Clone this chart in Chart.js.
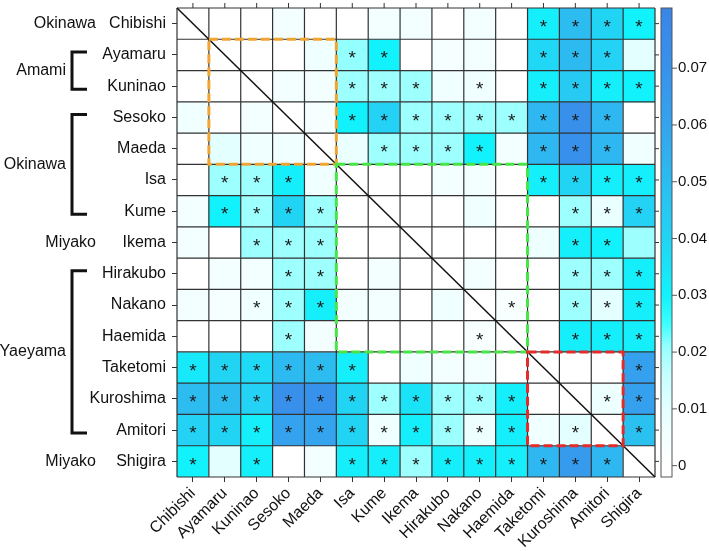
<!DOCTYPE html>
<html>
<head>
<meta charset="utf-8">
<script src="https://cdn.jsdelivr.net/npm/chart.js@4.4.1/dist/chart.umd.min.js"></script>
<style>
  body { margin: 0; background: #fff; }
  #wrap { width: 709px; height: 551px; }
</style>
</head>
<body>
<div id="wrap"><canvas id="heatChart" width="709" height="551"></canvas></div>
<script>
// Pairwise distance between sites (rows x columns), plus significance marks
const sites = ['Chibishi', 'Ayamaru', 'Kuninao', 'Sesoko', 'Maeda', 'Isa', 'Kume', 'Ikema',
    'Hirakubo', 'Nakano', 'Haemida', 'Taketomi', 'Kuroshima', 'Amitori', 'Shigira'];

const distance = [
    [0, 0, 0, 0.005, 0, 0, 0.005, 0.005, 0, 0.005, 0, 0.031, 0.050, 0.040, 0.030],
    [0, 0, 0, 0, 0.006, 0.021, 0.030, 0, 0.004, 0.005, 0, 0.039, 0.051, 0.041, 0.010],
    [0, 0, 0, 0.005, 0.005, 0.020, 0.020, 0.020, 0.006, 0.006, 0, 0.031, 0.044, 0.031, 0.030],
    [0.006, 0, 0.005, 0, 0.004, 0.030, 0.041, 0.020, 0.020, 0.020, 0.020, 0.052, 0.072, 0.052, 0],
    [0, 0.010, 0.006, 0.006, 0, 0.008, 0.020, 0.020, 0.020, 0.030, 0.005, 0.052, 0.071, 0.052, 0.006],
    [0, 0.020, 0.020, 0.031, 0.006, 0, 0, 0, 0.005, 0.005, 0, 0.031, 0.040, 0.031, 0.031],
    [0.005, 0.030, 0.020, 0.040, 0.020, 0, 0, 0, 0, 0.006, 0, 0, 0.020, 0.008, 0.041],
    [0.005, 0, 0.020, 0.020, 0.020, 0, 0, 0, 0, 0, 0, 0.007, 0.031, 0.030, 0.020],
    [0, 0.005, 0.005, 0.020, 0.020, 0, 0.005, 0, 0, 0.005, 0, 0, 0.020, 0.020, 0.031],
    [0.005, 0.004, 0.006, 0.020, 0.031, 0.005, 0.005, 0, 0.006, 0, 0.003, 0, 0.020, 0.010, 0.031],
    [0, 0, 0, 0.020, 0.005, 0, 0, 0, 0, 0.003, 0, 0, 0.031, 0.031, 0.031],
    [0.033, 0.040, 0.038, 0.051, 0.050, 0.031, 0, 0.006, 0.005, 0.005, 0, 0, 0, 0, 0.062],
    [0.050, 0.050, 0.041, 0.072, 0.070, 0.040, 0.020, 0.035, 0.020, 0.020, 0.031, 0, 0, 0.007, 0.062],
    [0.041, 0.040, 0.031, 0.061, 0.060, 0.040, 0.006, 0.031, 0.020, 0.007, 0.031, 0.006, 0.010, 0, 0.048],
    [0.030, 0.010, 0.031, 0, 0.005, 0.031, 0.031, 0.020, 0.031, 0.031, 0.031, 0.052, 0.065, 0.052, 0]
];

const significant = [
    [0, 0, 0, 0, 0, 0, 0, 0, 0, 0, 0, 1, 1, 1, 1],
    [0, 0, 0, 0, 0, 1, 1, 0, 0, 0, 0, 1, 1, 1, 0],
    [0, 0, 0, 0, 0, 1, 1, 1, 0, 1, 0, 1, 1, 1, 1],
    [0, 0, 0, 0, 0, 1, 1, 1, 1, 1, 1, 1, 1, 1, 0],
    [0, 0, 0, 0, 0, 0, 1, 1, 1, 1, 0, 1, 1, 1, 0],
    [0, 1, 1, 1, 0, 0, 0, 0, 0, 0, 0, 1, 1, 1, 1],
    [0, 1, 1, 1, 1, 0, 0, 0, 0, 0, 0, 0, 1, 1, 1],
    [0, 0, 1, 1, 1, 0, 0, 0, 0, 0, 0, 0, 1, 1, 0],
    [0, 0, 0, 1, 1, 0, 0, 0, 0, 0, 0, 0, 1, 1, 1],
    [0, 0, 1, 1, 1, 0, 0, 0, 0, 0, 1, 0, 1, 1, 1],
    [0, 0, 0, 1, 0, 0, 0, 0, 0, 1, 0, 0, 1, 1, 1],
    [1, 1, 1, 1, 1, 1, 0, 0, 0, 0, 0, 0, 0, 0, 1],
    [1, 1, 1, 1, 1, 1, 1, 1, 1, 1, 1, 0, 0, 1, 1],
    [1, 1, 1, 1, 1, 1, 1, 1, 1, 1, 1, 0, 1, 0, 1],
    [1, 0, 1, 0, 0, 1, 1, 1, 1, 1, 1, 1, 1, 1, 0]
];

// Region groups shown at the left
const groupNames = ['Okinawa', 'Amami', 'Okinawa', 'Miyako', 'Yaeyama', 'Miyako'];
const groupFirst = [0, 1, 3, 7, 8, 14];
const groupLast = [0, 2, 6, 7, 13, 14];

// Colour scale
const cmapValues = [0, 0.004, 0.01, 0.016, 0.021, 0.025, 0.03, 0.04, 0.05, 0.06, 0.07, 0.08];
const cmapColors = ['#ffffff', '#f6ffff', '#e4ffff', '#c6ffff', '#94ffff', '#3cffff',
    '#12f2fc', '#22d4f4', '#2cbcf0', '#34a4ee', '#3792ec', '#3a86e8'];
const colorbarTicks = [0, 0.01, 0.02, 0.03, 0.04, 0.05, 0.06, 0.07];

// Highlighted blocks: [first index, last index, colour]
const blocks = [[1, 4, '#f2a431'], [5, 10, '#46e646'], [11, 13, '#e52a2a']];

function hexToRgb(h) {
    return [parseInt(h.slice(1, 3), 16), parseInt(h.slice(3, 5), 16), parseInt(h.slice(5, 7), 16)];
}
function colorFor(v) {
    if (v <= cmapValues[0]) return cmapColors[0];
    for (let i = 1; i < cmapValues.length; i++) {
        if (v <= cmapValues[i]) {
            const t = (v - cmapValues[i - 1]) / (cmapValues[i] - cmapValues[i - 1]);
            const a = hexToRgb(cmapColors[i - 1]), b = hexToRgb(cmapColors[i]);
            const c = a.map((x, k) => Math.round(x + (b[k] - x) * t));
            return 'rgb(' + c.join(',') + ')';
        }
    }
    return cmapColors[cmapColors.length - 1];
}

// keep the plot area where the reference has it
function noPad(s) {
    s.paddingTop = 0; s.paddingBottom = 0; s.paddingLeft = 0; s.paddingRight = 0;
}

const overlay = {
    id: 'overlay',
    afterDatasetsDraw(chart) {
        const { ctx, chartArea: a, scales: { x, y, cb } } = chart;
        const n = sites.length;
        const half = (x.getPixelForValue(1) - x.getPixelForValue(0)) / 2;
        const colEdge = i => x.getPixelForValue(i) - half;
        ctx.save();

        // cell borders
        ctx.strokeStyle = '#333';
        ctx.lineWidth = 1.2;
        ctx.beginPath();
        for (let i = 0; i <= n; i++) {
            const px = i < n ? colEdge(i) : x.getPixelForValue(n - 1) + half;
            ctx.moveTo(px, a.top); ctx.lineTo(px, a.bottom);
            const py = y.getPixelForValue(i);
            ctx.moveTo(a.left, py); ctx.lineTo(a.right, py);
        }
        ctx.stroke();

        // significance asterisks
        ctx.fillStyle = '#1a1a1a';
        ctx.font = '19px "Liberation Sans", Arial, sans-serif';
        ctx.textAlign = 'center';
        ctx.textBaseline = 'middle';
        for (let r = 0; r < n; r++) {
            for (let c = 0; c < n; c++) {
                if (significant[r][c]) {
                    ctx.fillText('*', x.getPixelForValue(c), y.getPixelForValue(r + 0.5) + 4);
                }
            }
        }

        // diagonal
        ctx.strokeStyle = '#111';
        ctx.lineWidth = 1.5;
        ctx.beginPath();
        ctx.moveTo(a.left, a.top); ctx.lineTo(a.right, a.bottom);
        ctx.stroke();

        // dashed blocks
        ctx.lineWidth = 3;
        ctx.setLineDash([9, 4]);
        blocks.forEach(([s, e, col]) => {
            const x0 = colEdge(s), x1 = colEdge(e) + 2 * half;
            const y0 = y.getPixelForValue(s), y1 = y.getPixelForValue(e + 1);
            ctx.strokeStyle = col;
            ctx.strokeRect(x0, y0, x1 - x0, y1 - y0);
        });
        ctx.setLineDash([]);

        // top and right tick marks
        ctx.strokeStyle = '#333';
        ctx.lineWidth = 1;
        ctx.beginPath();
        for (let i = 0; i < n; i++) {
            const px = x.getPixelForValue(i);
            ctx.moveTo(px, a.top - 5); ctx.lineTo(px, a.top);
            const py = y.getPixelForValue(i + 0.5);
            ctx.moveTo(a.right, py); ctx.lineTo(a.right + 4, py);
        }
        ctx.stroke();

        // group labels and brackets
        ctx.fillStyle = '#111';
        ctx.font = '16px "Liberation Sans", Arial, sans-serif';
        ctx.textAlign = 'right';
        ctx.lineWidth = 3;
        ctx.strokeStyle = '#111';
        groupNames.forEach((name, g) => {
            const yTop = y.getPixelForValue(groupFirst[g] + 0.5);
            const yBot = y.getPixelForValue(groupLast[g] + 0.5);
            if (groupFirst[g] === groupLast[g]) {
                ctx.fillText(name, 96, yTop);
            } else {
                ctx.fillText(name, 66, (yTop + yBot) / 2);
                ctx.beginPath();
                ctx.moveTo(87, yTop - 3); ctx.lineTo(72, yTop - 3);
                ctx.lineTo(72, yBot + 3); ctx.lineTo(87, yBot + 3);
                ctx.stroke();
            }
        });

        // colour bar
        const bx = cb.left + 6, bw = 11;
        const grad = ctx.createLinearGradient(0, cb.bottom, 0, cb.top);
        cmapValues.forEach((v, i) => {
            const p = (cb.bottom - cb.getPixelForValue(v)) / (cb.bottom - cb.top);
            grad.addColorStop(Math.min(1, Math.max(0, p)), cmapColors[i]);
        });
        ctx.fillStyle = grad;
        ctx.fillRect(bx, cb.top, bw, cb.bottom - cb.top);
        ctx.strokeStyle = '#555';
        ctx.lineWidth = 1;
        ctx.strokeRect(bx, cb.top, bw, cb.bottom - cb.top);
        ctx.beginPath();
        colorbarTicks.forEach(v => {
            const py = cb.getPixelForValue(v);
            ctx.moveTo(bx + bw, py); ctx.lineTo(bx + bw + 5, py);
        });
        ctx.stroke();
        ctx.restore();
    }
};

Chart.defaults.font.family = '"Liberation Sans", Arial, sans-serif';
Chart.defaults.font.size = 16;
Chart.defaults.color = '#111';

const ctx = document.getElementById('heatChart').getContext('2d');
new Chart(ctx, {
    type: 'bar',
    data: {
        labels: sites,
        datasets: sites.map((rowName, r) => ({
            label: rowName,
            data: sites.map(() => [r, r + 1]),
            backgroundColor: distance[r].map(colorFor),
            borderWidth: 0,
            grouped: false,
            barPercentage: 1,
            categoryPercentage: 1
        }))
    },
    options: {
        responsive: false,
        animation: false,
        layout: { padding: { top: 8, left: 0, right: 0, bottom: 0 } },
        plugins: {
            legend: { display: false },
            tooltip: { enabled: false }
        },
        scales: {
            x: {
                grid: { offset: false, drawOnChartArea: false, tickLength: 5, color: '#333' },
                border: { display: false },
                ticks: { autoSkip: false, minRotation: 45, maxRotation: 45, padding: 2, font: { size: 16 } },
                afterFit: s => { s.height = 74; noPad(s); }
            },
            y: {
                reverse: true,
                min: 0,
                max: 15,
                grid: { drawOnChartArea: false, tickLength: 5, color: '#333' },
                border: { display: false },
                afterBuildTicks: s => { s.ticks = sites.map((_, i) => ({ value: i + 0.5 })); },
                ticks: { callback: (v, i) => sites[i], padding: 6, font: { size: 16 } },
                afterFit: s => { s.width = 177; noPad(s); }
            },
            cb: {
                type: 'linear',
                position: 'right',
                min: -0.002,
                max: 0.0806,
                grid: { display: false, drawTicks: false },
                border: { display: false },
                afterBuildTicks: s => { s.ticks = colorbarTicks.map(v => ({ value: v })); },
                ticks: { callback: v => (v === 0 ? '0' : v.toFixed(2)), padding: 23, font: { size: 15 } },
                afterFit: s => { s.width = 54; noPad(s); }
            }
        }
    },
    plugins: [overlay]
});
</script>
</body>
</html>
